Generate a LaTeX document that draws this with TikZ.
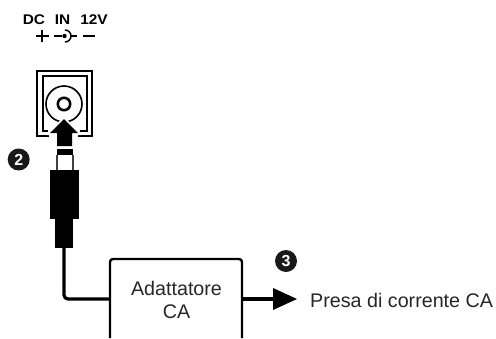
\documentclass[tikz,border=0pt]{standalone}
\usepackage{fontspec}
\setmainfont{Liberation Sans}
\tikzset{
  x=1pt,y=-1pt,
  lbl/.style={inner sep=0pt,font=\fontsize{19.7}{22}\selectfont,text=black!85},
  toplbl/.style={inner sep=0pt,anchor=base,font=\fontsize{14}{15}\selectfont\bfseries},
  badge/.style={circle,fill=black!90,text=white,inner sep=0pt,minimum size=22pt,font=\fontsize{16}{16}\selectfont\bfseries},
  sock/.style={line width=1.7pt},
  wire/.style={line width=3.2pt,line join=round,rounded corners=4pt}
}
\newcommand{\wide}[1]{\scalebox{1.1}[1]{#1}}
\begin{document}
\begin{tikzpicture}
\useasboundingbox (0,0) rectangle (496,338);
\node[toplbl] (dc) at (34,24.5) {\wide{DC}};
\node[toplbl] (in) at (62.5,24.5) {\wide{IN}};
\node[toplbl] (v) at (94,24.5) {\wide{12V}};
% symbols
\draw[line width=1.6pt] (36,36) -- (48.5,36) (42,30) -- (42,42);
\draw[line width=1.6pt] (83,36) -- (95,36);
\draw[line width=1.3pt] (54,36) -- (62,36);
\draw[line width=1.5pt] (65,30) arc[start angle=-90,end angle=90,radius=6];
\fill (64.5,36) circle (2.2);
\draw[line width=1.3pt] (71,36) -- (77,36);
% jack socket
\draw[sock,line cap=butt] (49,136) -- (37,136) -- (37,71) -- (92,71) -- (92,136) -- (78,136);
\draw[sock] (48,131) -- (43,131) -- (43,76) -- (87,76) -- (87,131) -- (80,131);
\draw[line width=1.6pt] (64,104) circle (18);
\draw[line width=2.6pt] (64,104) circle (6.2);
% arrow into socket
\path[fill=white] (64,116) -- (81,135) -- (47,135) -- cycle;
\fill (64,119) -- (78,133) -- (72,133) -- (72,146) -- (57,146) -- (57,133) -- (50,133) -- cycle;
% plug
\fill (57,149) rectangle (73,155);
\draw[line width=1.3pt,black!75] (57,155) -- (57,170) (73,155) -- (73,170);
\fill (50,170) rectangle (79,219);
\fill (55,219) rectangle (73,248);
\coordinate (plugend) at (64,248);
% adapter
\draw[line width=2.4pt,rounded corners=3pt] (110,338) -- (110,259) -- (242,259) -- (242,338);
\node[lbl,anchor=base] (ad) at (176.5,295) {Adattatore};
\node[lbl,anchor=base] (ca) at (176.5,318) {CA};
\coordinate (boxl) at (110,299);
\coordinate (boxr) at (242,299);
\draw[wire] (plugend) |- (boxl);
\draw[line width=3.2pt] (boxr) -- (275,299);
\fill (273,288) -- (297,299) -- (273,310) -- cycle;
\node[lbl,anchor=base west] (presa) at (310,307.5) {Presa di corrente CA};
\node[badge] (n2) at (18.7,159.5) {2};
\node[badge] (n3) at (286,261) {3};
\end{tikzpicture}
\end{document}
